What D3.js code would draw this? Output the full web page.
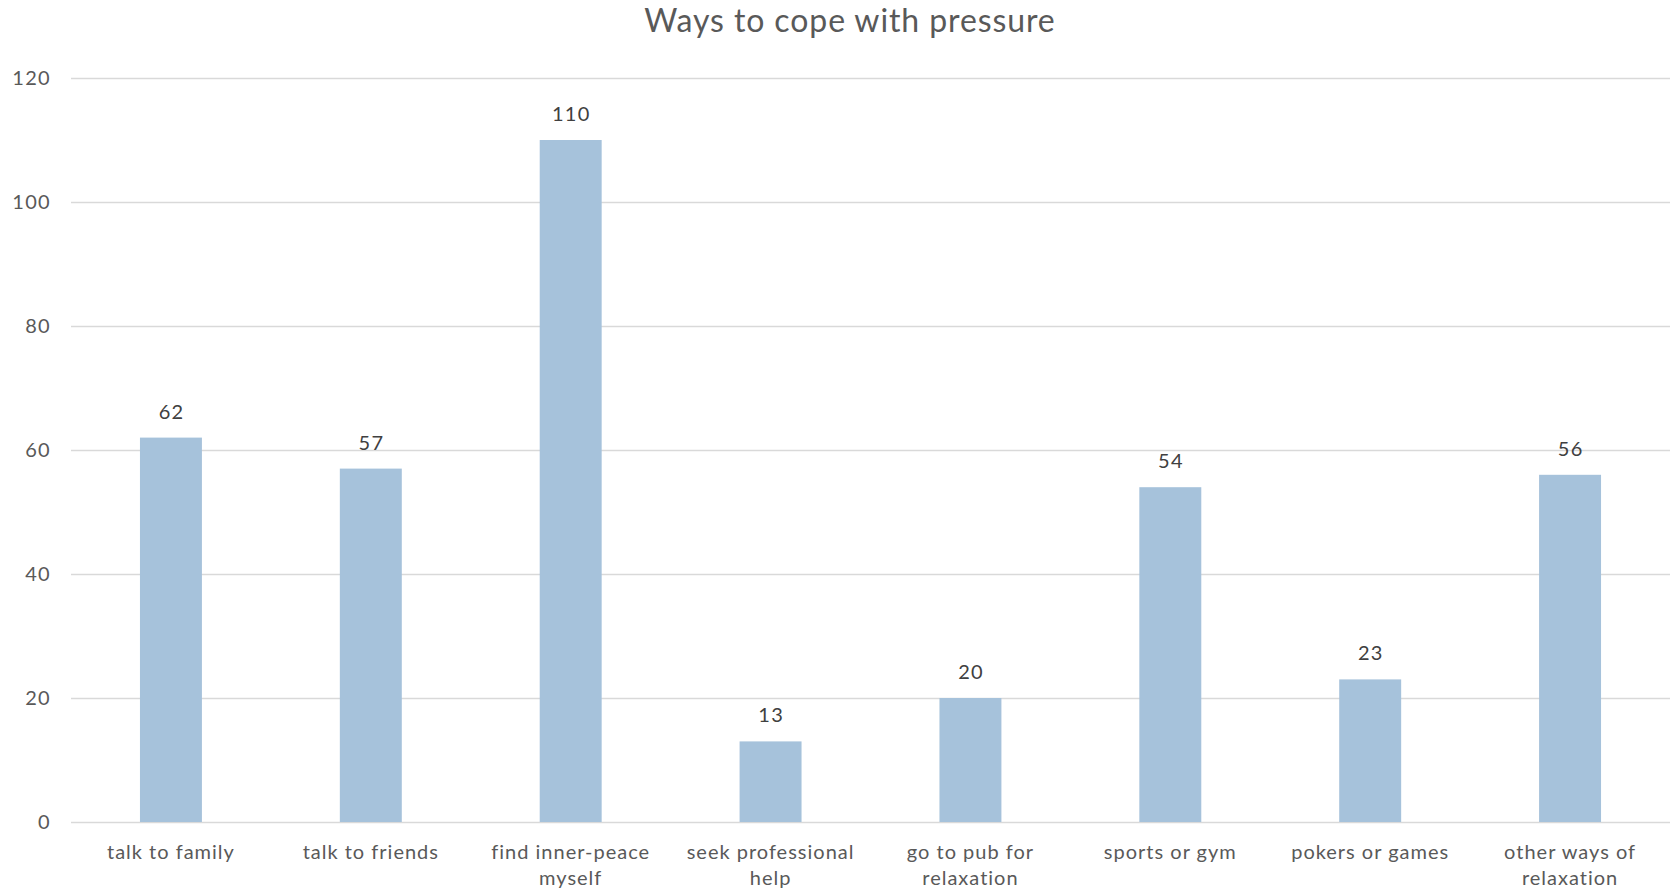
<!DOCTYPE html>
<html>
<head>
<meta charset="utf-8">
<script src="https://cdn.jsdelivr.net/npm/d3@7"></script>
<style>
  html, body { margin: 0; padding: 0; background: #ffffff; }
  svg { display: block; }
  text { font-family: Lato, "Noto Sans", sans-serif; }
</style>
</head>
<body>
<svg id="chart" width="1672" height="893"></svg>
<script>
const title = "Ways to cope with pressure";
const categories = [
  "talk to family",
  "talk to friends",
  "find inner-peace myself",
  "seek professional help",
  "go to pub for relaxation",
  "sports or gym",
  "pokers or games",
  "other ways of relaxation"
];
const values = [62, 57, 110, 13, 20, 54, 23, 56];
const yTicks = [0, 20, 40, 60, 80, 100, 120];

const W = 1672, H = 893;
const margin = { left: 71, right: 2, top: 78, bottom: 71 };
const svg = d3.select("#chart");
const FONT = "Lato, 'Noto Sans', sans-serif";

const x = d3.scaleBand()
  .domain(categories)
  .range([margin.left, W - margin.right])
  .paddingInner(0.69)
  .paddingOuter(0.345);

const y = d3.scaleLinear()
  .domain([0, 120])
  .range([H - margin.bottom, margin.top]);

// title
svg.append("text")
  .attr("x", 850)
  .attr("y", 32)
  .attr("text-anchor", "middle")
  .attr("font-size", 32)
  .attr("letter-spacing", 0.9)
  .attr("fill", "#595959")
  .text(title);

// gridlines
const yAxis = d3.axisLeft(y)
  .tickValues(yTicks)
  .tickSize(-(W - margin.right - margin.left))
  .tickPadding(20);

const gy = svg.append("g")
  .attr("transform", `translate(${margin.left},0)`)
  .call(yAxis);
gy.select(".domain").remove();
gy.selectAll(".tick line").attr("stroke", "#d9d9d9").attr("stroke-width", 1.5);
gy.selectAll(".tick text")
  .attr("fill", "#595959")
  .attr("font-size", 20)
  .attr("letter-spacing", 1.3)
  .style("font-family", FONT);

// bars
svg.append("g").selectAll("rect")
  .data(values)
  .join("rect")
  .attr("x", (d, i) => x(categories[i]))
  .attr("y", d => y(d))
  .attr("width", x.bandwidth())
  .attr("height", d => y(0) - y(d))
  .attr("fill", "#a6c2db");

// value labels
svg.append("g").selectAll("text")
  .data(values)
  .join("text")
  .attr("x", (d, i) => x(categories[i]) + x.bandwidth() / 2 + 0.6)
  .attr("y", d => y(d) - 19)
  .attr("text-anchor", "middle")
  .attr("font-size", 20)
  .attr("letter-spacing", 1.3)
  .attr("fill", "#404040")
  .text(d => d);

// x axis
const xAxis = d3.axisBottom(x).tickSize(0).tickPadding(0);
const gx = svg.append("g")
  .attr("transform", `translate(0,${y(0)})`)
  .call(xAxis);
gx.select(".domain").remove();
gx.selectAll(".tick text").remove();

const maxW = 185;
gx.selectAll(".tick").each(function(d) {
  const g = d3.select(this);
  const t = g.append("text")
    .attr("text-anchor", "middle")
    .attr("fill", "#595959")
    .attr("font-size", 20)
    .attr("letter-spacing", 1)
    .style("font-family", FONT);
  const words = d.split(" ");
  let lines = [];
  let line = [];
  const tspan = t.append("tspan");
  for (const w of words) {
    line.push(w);
    tspan.text(line.join(" "));
    if (tspan.node().getComputedTextLength() > maxW && line.length > 1) {
      line.pop();
      lines.push(line.join(" "));
      line = [w];
    }
  }
  lines.push(line.join(" "));
  tspan.remove();
  lines.forEach((l, i) => {
    t.append("tspan")
      .attr("x", 0)
      .attr("y", 37 + i * 26)
      .text(l);
  });
});
</script>
</body>
</html>
